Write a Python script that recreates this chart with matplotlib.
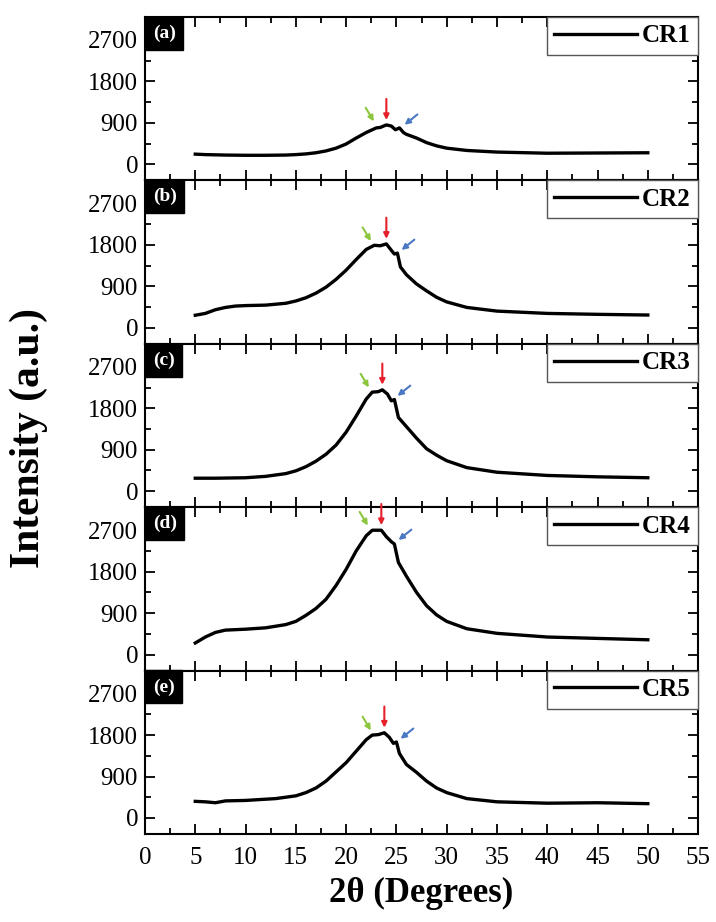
import matplotlib
matplotlib.use("Agg")
from matplotlib import pyplot as plt
from matplotlib.ticker import MultipleLocator

plt.rcParams['font.family'] = ['Liberation Serif', 'DejaVu Serif']

# 2theta positions (degrees) and intensities
x_a = [5, 6, 8, 10, 12, 14, 15, 16, 17, 18, 19, 20, 21, 22, 23, 23.4, 24, 24.5, 24.9, 25.3, 25.7, 26, 27, 28, 29, 30, 32, 35, 40, 45, 50]
y_a = [220, 210, 200, 195, 195, 200, 210, 225, 250, 290, 350, 440, 570, 690, 790, 800, 855, 830, 750, 790, 690, 650, 570, 470, 400, 350, 300, 265, 240, 245, 250]

x_b = [5, 6, 7, 8, 9, 10, 12, 14, 15, 16, 17, 18, 19, 20, 21, 22, 22.8, 23.4, 24, 24.5, 24.8, 25.1, 25.4, 26, 27, 28, 29, 30, 32, 35, 40, 45, 50]
y_b = [270, 310, 390, 440, 470, 480, 490, 530, 580, 650, 750, 880, 1050, 1250, 1480, 1700, 1790, 1780, 1820, 1680, 1600, 1620, 1320, 1150, 950, 800, 660, 560, 440, 360, 310, 290, 275]

x_c = [5, 7, 10, 12, 14, 15, 16, 17, 18, 19, 20, 21, 22, 22.6, 23.2, 23.6, 24.1, 24.5, 24.8, 25.2, 26, 27, 28, 29, 30, 32, 35, 40, 45, 50]
y_c = [280, 280, 290, 320, 380, 440, 530, 650, 800, 1000, 1280, 1630, 2000, 2150, 2160, 2200, 2110, 1960, 1990, 1600, 1400, 1150, 920, 780, 660, 510, 410, 340, 310, 290]

x_d = [5, 6, 7, 8, 10, 12, 14, 15, 16, 17, 18, 19, 20, 21, 22, 22.6, 23.5, 24, 24.5, 24.8, 25.2, 26, 27, 28, 29, 30, 32, 35, 40, 45, 50]
y_d = [250, 380, 480, 530, 550, 580, 650, 720, 850, 1000, 1200, 1500, 1850, 2250, 2580, 2700, 2700, 2560, 2450, 2400, 2000, 1700, 1350, 1060, 860, 720, 560, 460, 380, 350, 320]

x_e = [5, 6, 7, 8, 10, 13, 15, 16, 17, 18, 19, 20, 21, 22, 22.6, 23.2, 23.8, 24.3, 24.7, 25, 25.3, 26, 27, 28, 29, 30, 32, 35, 40, 45, 50]
y_e = [360, 350, 330, 370, 380, 420, 480, 550, 650, 800, 1000, 1200, 1450, 1700, 1800, 1810, 1850, 1750, 1620, 1650, 1400, 1160, 990, 800, 650, 550, 420, 350, 320, 330, 310]

series_x = [x_a, x_b, x_c, x_d, x_e]
series_y = [y_a, y_b, y_c, y_d, y_e]
samples = ['CR1', 'CR2', 'CR3', 'CR4', 'CR5']
panel_tags = ['(a)', '(b)', '(c)', '(d)', '(e)']

# arrow tips (x, y) for the three marked reflections in each panel
green_tips = [(22.9, 880), (22.6, 1830), (22.4, 2200), (22.3, 2750), (22.6, 1850)]
red_tips = [(24.0, 900), (24.0, 1870), (23.6, 2250), (23.5, 2750), (23.8, 1900)]
blue_tips = [(25.6, 820), (25.3, 1650), (24.9, 2030), (25.0, 2450), (25.2, 1680)]

arrow_green = '#8cc63e'
arrow_red = '#e5202a'
arrow_blue = '#4a78c2'

fig, axes = plt.subplots(5, 1, figsize=(7.16, 9.22), dpi=100, sharex=True)
fig.subplots_adjust(left=0.2025, right=0.975, top=0.9816, bottom=0.0954, hspace=0)

for i, ax in enumerate(axes):
    ax.plot(series_x[i], series_y[i], color='black', lw=2.4, label=samples[i])
    ax.set_xlim(0, 55)
    ax.set_ylim(-350, 3200)
    ax.set_yticks([0, 900, 1800, 2700])
    ax.yaxis.set_minor_locator(MultipleLocator(450))
    ax.xaxis.set_major_locator(MultipleLocator(5))
    ax.xaxis.set_minor_locator(MultipleLocator(2.5))
    ax.tick_params(which='both', direction='in', top=True, right=True, width=1.3)
    ax.tick_params(which='major', length=7, labelsize=18)
    ax.tick_params(which='minor', length=4)
    ax.tick_params(axis='x', pad=9)
    ax.tick_params(axis='y', pad=5)
    for sp in ax.spines.values():
        sp.set_linewidth(1.5)

    # panel tag in black box, tucked into the top left corner
    ax.annotate(panel_tags[i], xy=(0, 1), xycoords='axes fraction',
                xytext=(5.5, -5.5), textcoords='offset points', ha='left', va='top',
                color='white', fontsize=14, fontweight='bold',
                bbox=dict(boxstyle='square,pad=0.4', fc='black', ec='black'))

    leg = ax.legend(loc='upper right', borderaxespad=0, fancybox=False,
                    prop={'size': 18, 'weight': 'bold'}, handlelength=3.3,
                    handletextpad=0.2, borderpad=0.3, framealpha=1)
    leg.get_frame().set_edgecolor('#555555')
    leg.get_frame().set_linewidth(1.0)

    gx, gy = green_tips[i]
    ax.annotate('', xy=(gx, gy), xytext=(gx - 1.1, gy + 400),
                arrowprops=dict(arrowstyle='-|>', color=arrow_green, lw=1.5, mutation_scale=8))
    rx, ry = red_tips[i]
    ax.annotate('', xy=(rx, ry), xytext=(rx, ry + 580),
                arrowprops=dict(arrowstyle='-|>', color=arrow_red, lw=1.5, mutation_scale=8))
    bx, by = blue_tips[i]
    ax.annotate('', xy=(bx, by), xytext=(bx + 1.7, by + 300),
                arrowprops=dict(arrowstyle='-|>', color=arrow_blue, lw=1.5, mutation_scale=8))

    if i < 4:
        ax.tick_params(axis='x', labelbottom=False)

axes[-1].set_xlabel('2θ (Degrees)', fontsize=25, fontweight='bold', labelpad=6)
fig.text(0.04, 0.525, 'Intensity (a.u.)', rotation=90, ha='center', va='center',
         fontsize=30, fontweight='bold')

fig.savefig('out.png', dpi=100)
